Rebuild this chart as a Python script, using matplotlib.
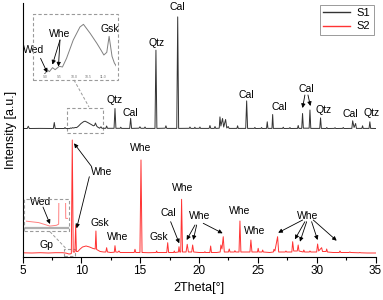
import numpy as np
import matplotlib
matplotlib.use("Agg")
import matplotlib.pyplot as plt
from matplotlib.lines import Line2D
from matplotlib.patches import Rectangle
from matplotlib.ticker import MultipleLocator

plt.rcParams["font.family"] = ["Liberation Sans", "DejaVu Sans"]

# XRD patterns: (2theta, intensity a.u.), S1 is offset upwards
s1_pattern = [
    (5.0, 128.5), (5.4, 128.5), (5.49, 130.8), (5.58, 128.5), (6.5, 128.6),
    (7.62, 128.5), (7.70, 134.5), (7.78, 128.5), (8.55, 128.5), (8.61, 129.5),
    (8.68, 128.5), (9.0, 128.4), (9.08, 129.0), (9.15, 128.7), (9.26, 129.3),
    (9.35, 129.0), (9.49, 129.5), (9.6, 129.4), (9.74, 130.7), (9.97, 133.45),
    (10.2, 135.4), (10.32, 135.8), (10.55, 134.45), (10.78, 132.95), (10.92, 131.95),
    (11.02, 131.2), (11.12, 131.6), (11.2, 134.0), (11.3, 131.0), (11.38, 130.0),
    (11.45, 129.5), (11.55, 128.8), (11.67, 130.2), (11.75, 128.7), (12.08, 128.7),
    (12.15, 131.0), (12.22, 128.7), (12.78, 128.7), (12.86, 148.5), (12.94, 128.7),
    (13.3, 128.7), (13.35, 129.8), (13.42, 128.6), (14.11, 128.6), (14.19, 138.7),
    (14.27, 128.6), (14.9, 128.8), (14.98, 130.2), (15.06, 128.7), (15.35, 128.7),
    (15.41, 130.0), (15.48, 128.6), (16.26, 128.6), (16.34, 206.8), (16.42, 128.6),
    (17.12, 128.8), (17.19, 131.2), (17.26, 128.6), (18.11, 128.6), (18.19, 240.1),
    (18.27, 128.6), (19.18, 128.7), (19.23, 130.0), (19.3, 128.6), (19.6, 128.6),
    (19.65, 129.8), (19.7, 128.6), (20.03, 128.7), (20.08, 130.0), (20.13, 128.6),
    (20.86, 128.6), (20.93, 131.5), (21.0, 128.6), (21.3, 128.6), (21.36, 130.5),
    (21.42, 128.6), (21.72, 128.8), (21.78, 140.1), (21.86, 131.0), (22.0, 138.5),
    (22.1, 130.0), (22.26, 137.5), (22.36, 129.0), (22.48, 130.5), (22.56, 128.6),
    (23.22, 128.6), (23.28, 131.2), (23.34, 128.6), (23.97, 128.6), (24.05, 156.1),
    (24.13, 128.6), (24.7, 128.6), (24.75, 129.6), (24.8, 128.5), (25.27, 128.6),
    (25.32, 129.5), (25.37, 128.5), (25.74, 128.6), (25.8, 135.2), (25.86, 128.6),
    (26.2, 128.6), (26.26, 142.5), (26.32, 128.6), (27.1, 128.6), (27.16, 129.8),
    (27.22, 128.5), (27.68, 128.6), (27.73, 129.5), (27.78, 128.5), (28.37, 128.6),
    (28.43, 131.5), (28.49, 128.6), (28.73, 128.6), (28.8, 143.5), (28.87, 128.8),
    (29.36, 128.8), (29.43, 147.0), (29.5, 128.6), (30.26, 128.6), (30.33, 139.1),
    (30.4, 128.6), (30.8, 128.5), (30.86, 129.5), (30.92, 128.5), (31.5, 128.6),
    (31.56, 129.3), (31.62, 128.5), (32.2, 128.6), (32.26, 129.5), (32.32, 128.5),
    (32.99, 128.6), (33.06, 136.2), (33.18, 129.5), (33.31, 133.5), (33.38, 128.6),
    (33.84, 128.6), (33.9, 131.2), (33.96, 128.6), (34.45, 128.6), (34.52, 135.2),
    (34.59, 128.6), (35.0, 128.5),
]

s2_pattern = [
    (5.0, 4.2), (5.8, 4.0), (6.5, 4.3), (7.2, 4.0), (7.8, 4.3), (8.4, 4.3),
    (8.7, 3.9), (8.95, 3.0), (9.1, 3.2), (9.15, 3.5), (9.23, 117.0), (9.31, 5.0),
    (9.45, 5.0), (9.52, 32.0), (9.58, 5.5), (9.7, 5.5), (9.9, 8.0), (10.1, 10.0),
    (10.4, 11.0), (10.7, 10.0), (11.0, 8.5), (11.18, 8.0), (11.24, 26.0), (11.3, 7.5),
    (11.6, 5.5), (11.9, 5.0), (12.08, 5.0), (12.15, 9.3), (12.22, 5.0), (12.5, 4.5),
    (12.8, 4.8), (12.86, 11.3), (12.93, 5.0), (13.1, 4.8), (13.2, 6.0), (13.3, 4.5),
    (14.0, 4.5), (14.49, 4.5), (14.56, 7.7), (14.63, 4.5), (14.98, 4.5), (15.07, 97.0),
    (15.16, 4.5), (15.7, 4.3), (16.35, 4.5), (16.4, 6.0), (16.45, 4.5), (17.26, 4.5),
    (17.34, 14.3), (17.42, 4.5), (17.85, 4.5), (17.9, 6.0), (17.95, 4.5), (18.25, 5.0),
    (18.3, 10.3), (18.36, 5.0), (18.45, 5.0), (18.52, 57.7), (18.6, 5.0), (18.9, 5.0),
    (19.0, 12.7), (19.1, 5.0), (19.38, 5.0), (19.46, 12.0), (19.55, 5.0), (20.0, 4.5),
    (20.45, 4.5), (20.5, 5.3), (20.55, 4.5), (20.92, 4.5), (20.99, 11.0), (21.06, 4.5),
    (21.5, 4.5), (21.8, 5.0), (21.86, 12.0), (21.95, 8.0), (22.06, 20.3), (22.15, 5.0),
    (22.5, 5.0), (22.57, 8.0), (22.64, 5.0), (23.0, 5.0), (23.05, 6.3), (23.12, 5.0),
    (23.4, 5.0), (23.48, 36.0), (23.56, 5.0), (24.33, 5.0), (24.41, 17.0), (24.5, 5.0),
    (24.97, 5.0), (25.03, 8.7), (25.09, 5.0), (25.36, 5.0), (25.41, 7.0), (25.47, 5.0),
    (26.0, 4.5), (26.32, 5.0), (26.37, 7.7), (26.45, 6.0), (26.68, 20.3), (26.77, 5.0),
    (27.33, 5.0), (27.39, 6.0), (27.45, 5.0), (27.89, 5.0), (27.96, 15.3), (28.05, 6.0),
    (28.35, 6.0), (28.43, 12.0), (28.5, 6.0), (28.85, 5.0), (28.91, 7.0), (28.97, 5.0),
    (29.37, 5.0), (29.43, 6.0), (29.5, 5.0), (30.0, 5.0), (30.08, 13.0), (30.17, 6.0),
    (30.42, 9.3), (30.5, 5.5), (30.8, 5.5), (30.85, 8.0), (30.92, 5.0), (31.4, 4.5),
    (31.92, 4.5), (31.98, 6.0), (32.05, 4.5), (32.75, 4.5), (32.82, 5.0), (32.9, 4.5),
    (33.6, 4.2), (33.67, 4.5), (33.75, 4.2), (34.3, 4.0), (35.0, 4.0),
]

series_names = ["S1", "S2"]

# phase labels (text, 2theta, y) and arrows (start, tip)
s1_labels = [
    ("Cal", 18.17, 249.5), ("Qtz", 16.38, 214), ("Qtz", 12.86, 157),
    ("Cal", 14.18, 144), ("Cal", 24.05, 162), ("Cal", 26.79, 149.5),
    ("Cal", 29.15, 168), ("Qtz", 30.62, 147), ("Cal", 32.83, 143),
    ("Qtz", 34.67, 144.3),
]
s1_arrows = [((29.0, 162), (28.8, 149)), ((29.26, 162), (29.47, 151))]

s2_labels = [
    ("Whe", 11.73, 85.3), ("Whe", 15.07, 108.7), ("Gsk", 11.58, 33.7),
    ("Whe", 13.05, 20.3), ("Gsk", 16.62, 20.3), ("Cal", 17.39, 44.3),
    ("Whe", 18.61, 68.7), ("Whe", 20.02, 40.7), ("Whe", 23.48, 46.3),
    ("Whe", 24.75, 26), ("Whe", 29.23, 41), ("Gp", 7.06, 12),
]
s2_arrows = [
    ((10.88, 90.3), (9.38, 113.7)), ((10.68, 80.3), (9.6, 28.7)),
    ((17.59, 35.3), (18.32, 13.7)), ((19.66, 32), (18.95, 17)),
    ((19.8, 32), (19.51, 17)), ((20.36, 33.7), (22.01, 23.7)),
    ((28.81, 37), (26.73, 24.3)), ((29.0, 35.3), (28.15, 17.7)),
    ((29.15, 35.3), (28.58, 15.3)), ((29.57, 35.3), (30.08, 17)),
    ((29.71, 37), (31.7, 16.3)),
]

inset1_labels = [("Wed", 8.605, 132.02), ("Whe", 9.515, 134.42), ("Gsk", 11.23, 135.05)]
inset1_arrows = [((8.85, 130.7), (9.08, 128.55)),
                 ((9.515, 133.45), (9.257, 129.77)),
                 ((9.515, 133.45), (9.463, 129.47))]
inset1_ticks = [9.0, 9.5, 10.0, 10.5, 11.0]
inset2_labels = [("Wed", 8.744, 9.25)]
inset2_arrows = [((8.796, 7.95), (8.954, 3.54))]

W, H = 383, 300
S1_COLOR = "#333333"
S2_COLOR = "#ff3333"
GREY = "#9a9a9a"
DASH = (0, (3, 2))
ARROW = dict(arrowstyle="-|>", color="k", lw=0.6, mutation_scale=6,
             shrinkA=0, shrinkB=0)


def fig_xy(px, py):
    return px / W, 1 - py / H


def draw_labels(ax, labels, arrows, size=7.5):
    for text, x, y in labels:
        ax.text(x, y, text, ha="center", va="center", fontsize=size)
    for start, tip in arrows:
        ax.annotate("", xy=tip, xytext=start, arrowprops=ARROW,
                    annotation_clip=False)


def dashed_box(fig, px0, py0, px1, py1):
    x0, y0 = fig_xy(px0, py1)
    fig.add_artist(Rectangle((x0, y0), (px1 - px0) / W, (py1 - py0) / H,
                             transform=fig.transFigure, fill=False,
                             ec=GREY, lw=0.8, ls=DASH))


def dashed_link(fig, p0, p1):
    a, b = fig_xy(*p0), fig_xy(*p1)
    fig.add_artist(Line2D([a[0], b[0]], [a[1], b[1]], transform=fig.transFigure,
                          color=GREY, lw=0.7, ls=DASH))


def main():
    s1_theta, s1_int = map(np.array, zip(*s1_pattern))
    s2_theta, s2_int = map(np.array, zip(*s2_pattern))

    fig = plt.figure(figsize=(W / 100, H / 100), dpi=100)
    ax = fig.add_axes([22.5 / W, 1 - 257 / H, 353 / W, 254 / H])
    l1, = ax.plot(s1_theta, s1_int, color=S1_COLOR, lw=0.7)
    l2, = ax.plot(s2_theta, s2_int, color=S2_COLOR, lw=0.7)

    ax.set_xlim(5, 35)
    ax.set_ylim(0, 254)
    ax.xaxis.set_major_locator(MultipleLocator(5))
    ax.xaxis.set_minor_locator(MultipleLocator(2.5))
    ax.tick_params(axis="x", direction="out", length=4, width=0.8, labelsize=8.5, pad=2)
    ax.tick_params(axis="x", which="minor", direction="out", length=2.5, width=0.8)
    ax.set_yticks([])
    for side in ("top", "right"):
        ax.spines[side].set_visible(False)
    for side in ("left", "bottom"):
        ax.spines[side].set_linewidth(0.8)
    ax.set_xlabel("2Theta[°]", fontsize=9, labelpad=3)
    ax.set_ylabel("Intensity [a.u.]", fontsize=9, labelpad=4)

    leg = ax.legend([l1, l2], series_names, loc="upper right", bbox_to_anchor=(0.995, 0.993),
                    fontsize=8, frameon=True, fancybox=False, framealpha=1,
                    edgecolor=GREY, handlelength=2.4, handletextpad=0.6,
                    borderpad=0.3, labelspacing=0.3, borderaxespad=0.0)
    leg.get_frame().set_linewidth(0.7)
    for h in leg.get_lines():
        h.set_linewidth(1.0)

    draw_labels(ax, s1_labels, s1_arrows)
    draw_labels(ax, s2_labels, s2_arrows)

    # zoom windows on the main patterns
    ax.add_patch(Rectangle((8.78, 124), 3.06, 25, fill=False, ec=GREY, lw=0.8, ls=DASH))
    ax.add_patch(Rectangle((8.53, 1), 0.93, 7, fill=False, ec=GREY, lw=0.8, ls=DASH))

    # upper inset: S1 amorphous hump
    dashed_box(fig, 32.5, 14, 117.5, 80)
    dashed_link(fig, (74, 80), (89, 107))
    ins1 = fig.add_axes([43.5 / W, 1 - 74 / H, 72.9 / W, 54 / H])
    ins1.patch.set_visible(False)
    ins1.plot(s1_theta, s1_int, color="#808080", lw=0.7)
    ins1.set_xlim(8.95, 11.45)
    ins1.set_ylim(128.35, 136.45)
    ins1.set_xticks(inset1_ticks)
    ins1.set_xticklabels([f"{t:.1f}" for t in inset1_ticks], fontsize=2.5, color="#777")
    ins1.tick_params(length=0, pad=1)
    ins1.set_yticks([])
    for sp in ins1.spines.values():
        sp.set_visible(False)
    draw_labels(ins1, inset1_labels, inset1_arrows)

    # lower inset: S2 near the first Whe reflection
    dashed_box(fig, 24, 199, 69, 231)
    dashed_link(fig, (50, 231.7), (66, 248.5))
    ins2 = fig.add_axes([25.5 / W, 1 - 228 / H, 42 / W, 25 / H])
    ins2.patch.set_visible(False)
    ins2.plot(s2_theta, s2_int, color="#ff8080", lw=0.7)
    ins2.set_xlim(8.4, 9.35)
    ins2.set_ylim(2.5, 9.0)
    ins2.set_xticks([])
    ins2.set_yticks([])
    for side in ("top", "right", "left"):
        ins2.spines[side].set_visible(False)
    ins2.spines["bottom"].set_color("#b0b0b0")
    ins2.spines["bottom"].set_linewidth(1.6)
    draw_labels(ins2, inset2_labels, inset2_arrows)

    fig.savefig("out.png", dpi=100)


if __name__ == "__main__":
    main()
